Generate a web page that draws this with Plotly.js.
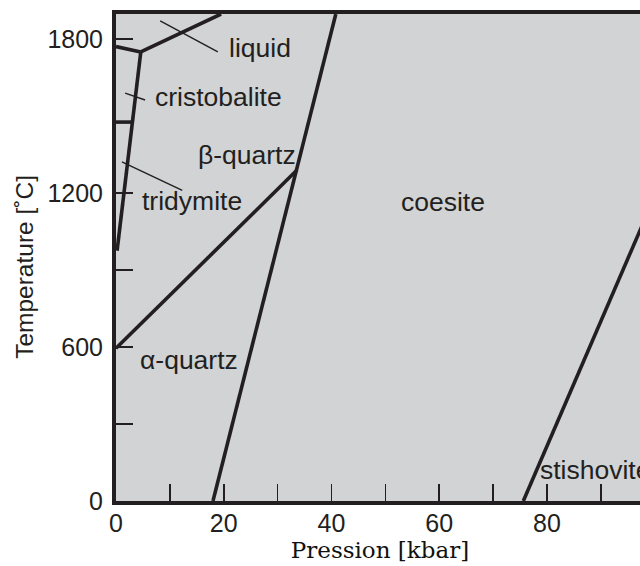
<!DOCTYPE html>
<html>
<head>
<meta charset="utf-8">
<script src="https://cdn.plot.ly/plotly-3.0.1.min.js"></script>
<style>
  html, body { margin: 0; padding: 0; width: 640px; height: 566px; overflow: hidden; background: #fff; }
  #chart { width: 660px; height: 566px; }
</style>
</head>
<body>
<div id="chart"></div>
<script>
// Phase boundaries of SiO2 (pressure in kbar, temperature in °C)
const quartzCoesiteP = [18.0, 40.8];
const quartzCoesiteT = [0, 1897];
const alphaBetaP = [0, 33.6];
const alphaBetaT = [595, 1289];
const quartzTridymiteP = [0.2, 4.6];
const quartzTridymiteT = [975, 1749];
const cristobaliteLiquidP = [0, 4.6];
const cristobaliteLiquidT = [1770, 1749];
const quartzLiquidP = [4.6, 19.5];
const quartzLiquidT = [1749, 1897];
const tridymiteCristobaliteP = [0, 3.05];
const tridymiteCristobaliteT = [1476, 1476];
const coesiteStishoviteP = [75.6, 98];
const coesiteStishoviteT = [0, 1090];

// Leader lines for labels
const leaderLiquidP = [8.2, 18.9];
const leaderLiquidT = [1870, 1749];
const leaderCristobaliteP = [1.7, 5.4];
const leaderCristobaliteT = [1589, 1562];
const leaderTridymiteP = [1.1, 12.3];
const leaderTridymiteT = [1321, 1210];

// Phase labels
const labelText = ["liquid", "cristobalite", "β-quartz", "tridymite", "α-quartz", "stishovite"];
const labelP = [20.6, 6.8, 14.9, 4.5, 4.0, 78.3];
const labelT = [1765, 1574, 1348, 1169, 549, 121];
const centerLabelText = ["coesite"];
const centerLabelP = [60.7];
const centerLabelT = [1165];

// Axis ticks
const xTickVals = [0, 10, 20, 30, 40, 50, 60, 70, 80, 90];
const xTickText = ["0", "", "20", "", "40", "", "60", "", "80", ""];
const yTickVals = [0, 300, 600, 900, 1200, 1800];
const yTickText = ["0", "", "600", "", "1200", "1800"];
const yTitleText = "Temperature [˚C]";
const yTitleT = 912;

const ink = "#231f20";
const boundaries = [
  [quartzCoesiteP, quartzCoesiteT],
  [alphaBetaP, alphaBetaT],
  [quartzTridymiteP, quartzTridymiteT],
  [cristobaliteLiquidP, cristobaliteLiquidT],
  [quartzLiquidP, quartzLiquidT],
  [tridymiteCristobaliteP, tridymiteCristobaliteT],
  [coesiteStishoviteP, coesiteStishoviteT]
];
const leaders = [
  [leaderLiquidP, leaderLiquidT],
  [leaderCristobaliteP, leaderCristobaliteT],
  [leaderTridymiteP, leaderTridymiteT]
];

const traces = [];
boundaries.forEach(b => traces.push({
  x: b[0], y: b[1], type: "scatter", mode: "lines",
  line: { color: ink, width: 3.6 }, hoverinfo: "skip", showlegend: false
}));
leaders.forEach(b => traces.push({
  x: b[0], y: b[1], type: "scatter", mode: "lines",
  line: { color: ink, width: 1.4 }, hoverinfo: "skip", showlegend: false
}));

const annFont = { family: "Liberation Sans, Arial, sans-serif", size: 26.5, color: ink };
const annotations = labelText.map((t, i) => ({
  x: labelP[i], y: labelT[i], xref: "x", yref: "y", text: t,
  showarrow: false, xanchor: "left", yanchor: "middle", font: annFont
})).concat(centerLabelText.map((t, i) => ({
  x: centerLabelP[i], y: centerLabelT[i], xref: "x", yref: "y", text: t,
  showarrow: false, xanchor: "center", yanchor: "middle", font: annFont
}))).concat([{
  x: 0, y: yTitleT, xref: "paper", yref: "y", text: yTitleText,
  textangle: -90, showarrow: false, xanchor: "center", yanchor: "middle",
  xshift: -91,
  font: { family: "Liberation Sans, Arial, sans-serif", size: 24.5, color: ink }
}]);

const layout = {
  width: 660, height: 566,
  margin: { l: 116, r: 16, t: 14, b: 65 },
  paper_bgcolor: "#ffffff",
  plot_bgcolor: "#d1d3d4",
  showlegend: false,
  xaxis: {
    range: [0, 98], showgrid: false, zeroline: false,
    showline: true, linecolor: ink, linewidth: 4, mirror: true,
    ticks: "inside", ticklen: 17, tickwidth: 1.6, tickcolor: ink,
    tickmode: "array", tickvals: xTickVals, ticktext: xTickText,
    ticklabelstandoff: -3,
    tickfont: { family: "Liberation Sans, Arial, sans-serif", size: 25, color: ink },
    title: { text: "Pression [kbar]", standoff: 4,
      font: { family: "DejaVu Serif, serif", size: 23, color: "#111" } }
  },
  yaxis: {
    range: [0, 1897], showgrid: false, zeroline: false,
    showline: true, linecolor: ink, linewidth: 4, mirror: true,
    ticks: "inside", ticklen: 17, tickwidth: 1.6, tickcolor: ink,
    tickmode: "array", tickvals: yTickVals, ticktext: yTickText,
    ticklabelstandoff: 4,
    tickfont: { family: "Liberation Sans, Arial, sans-serif", size: 25, color: ink }
  },
  annotations: annotations
};

Plotly.newPlot("chart", traces, layout, { staticPlot: true, displayModeBar: false });
</script>
</body>
</html>
